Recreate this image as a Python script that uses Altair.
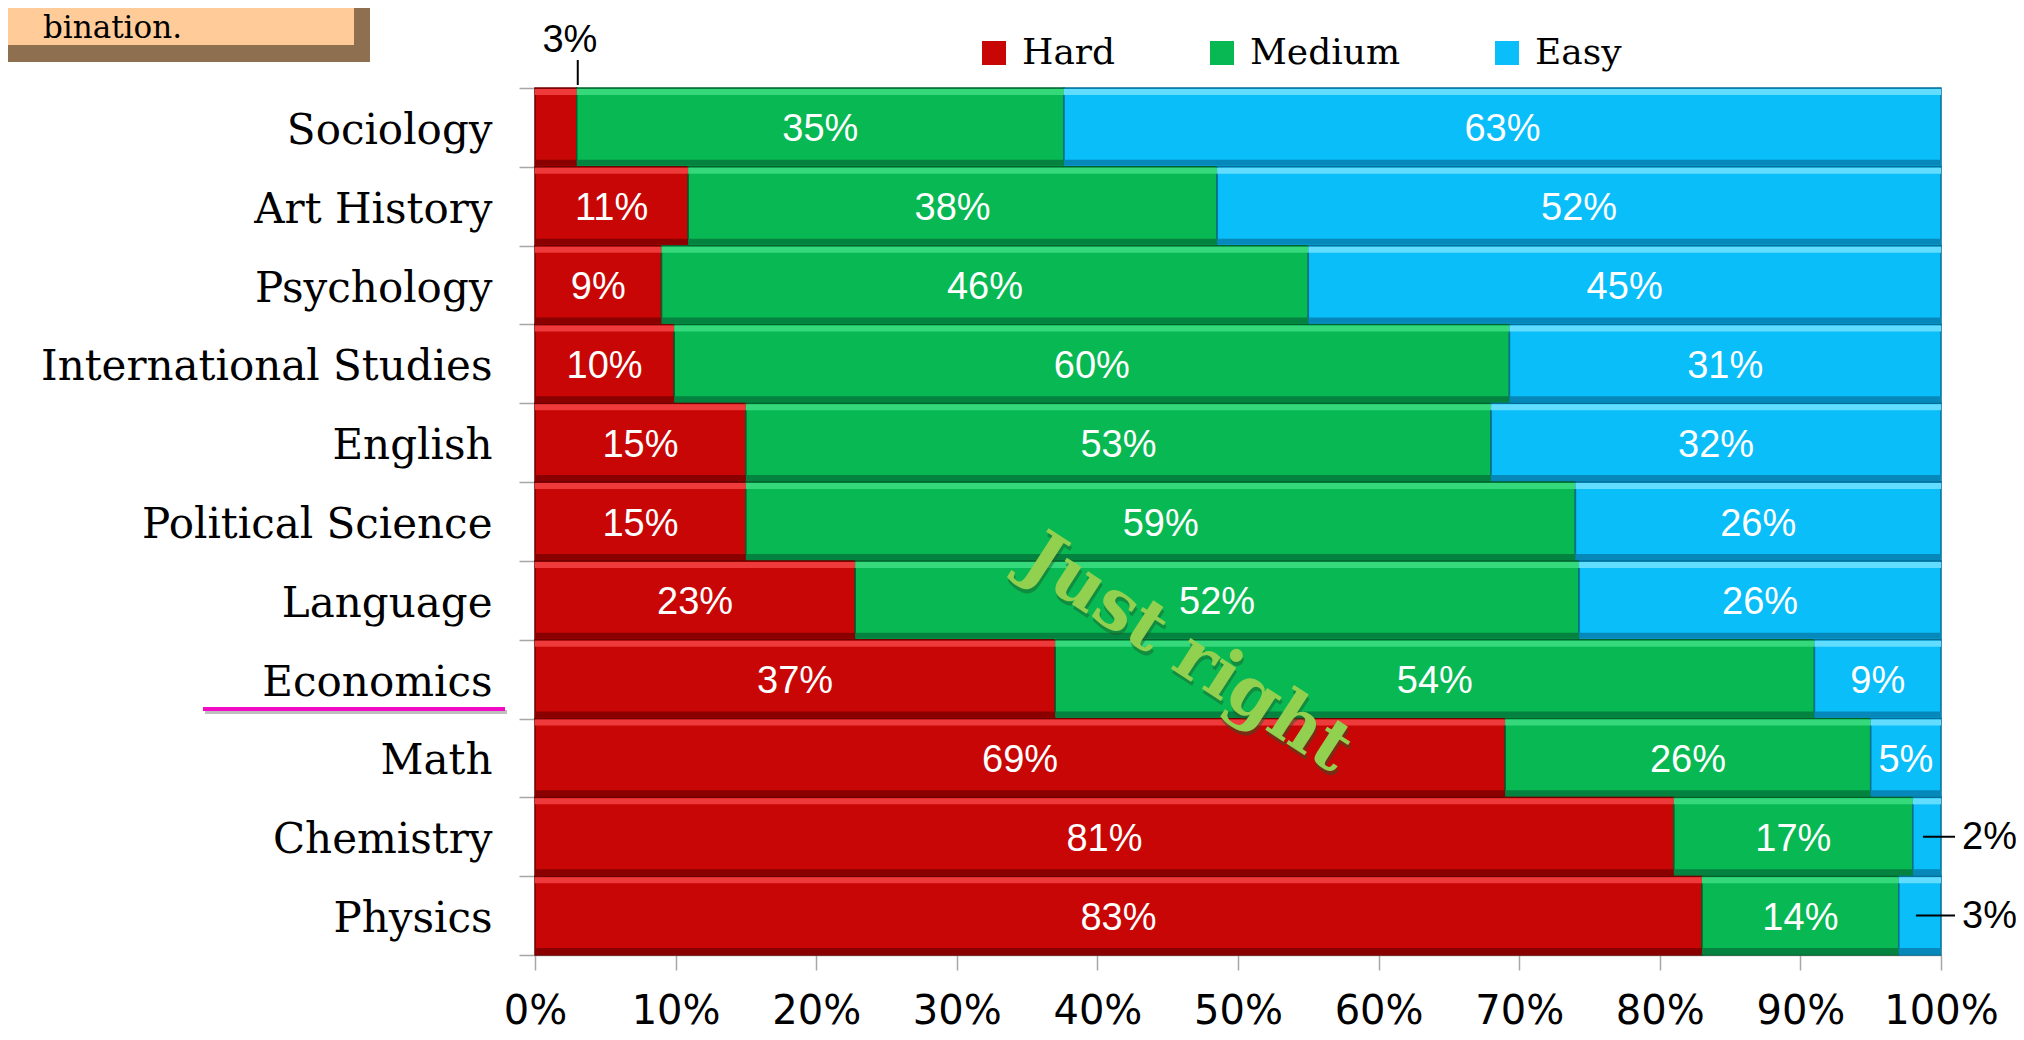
import altair as alt
import pandas as pd

# ---- data ----
subjects = ["Sociology", "Art History", "Psychology", "International Studies",
            "English", "Political Science", "Language", "Economics", "Math",
            "Chemistry", "Physics"]
hard = [3, 11, 9, 10, 15, 15, 23, 37, 69, 81, 83]
medium = [35, 38, 46, 60, 53, 59, 52, 54, 26, 17, 14]
easy = [63, 52, 45, 31, 32, 26, 26, 9, 5, 2, 3]
levels = ["Hard", "Medium", "Easy"]
colors = ["#C80606", "#07B853", "#09BEF9"]
edge_colors = ["#6E0000", "#03632F", "#056E96"]
light_colors = ["#EE3A3A", "#35D97C", "#62DDFF"]
dark_colors = ["#8A0000", "#04823F", "#0788BA"]
x_ticks = [0, 0.1, 0.2, 0.3, 0.4, 0.5, 0.6, 0.7, 0.8, 0.9, 1.0]

# ---- long table with segment extents (normalised per subject) ----
rows = []
for i, s in enumerate(subjects):
    vals = [hard[i], medium[i], easy[i]]
    tot = float(sum(vals))
    start = 0.0
    for lev, v in zip(levels, vals):
        end = start + v / tot
        rows.append({"subject": s, "level": lev, "value": v,
                     "x0": start, "x1": end, "mid": (start + end) / 2,
                     "label": f"{v}%"})
        start = end
df = pd.DataFrame(rows)
inside = df[df["value"] >= 4]
out_right = df[(df["value"] < 4) & (df["level"] == "Easy")]
out_top = df[(df["value"] < 4) & (df["level"] == "Hard")]

W, H = 1406, 867
band = H / len(subjects)

y_enc = alt.Y("subject:N", sort=subjects, title=None,
              scale=alt.Scale(paddingInner=0, paddingOuter=0),
              axis=alt.Axis(labelFont="DejaVu Serif", labelFontSize=42,
                            labelColor="#000000", labelLimit=700,
                            labelPadding=27, labelOffset=3,
                            tickBand="extent", tickSize=16,
                            tickColor="#A6A6A6", domainColor="#A6A6A6",
                            domainWidth=1.5, tickWidth=1.5))
x_scale = alt.Scale(domain=[0, 1], nice=False)
y_plain = alt.Y("subject:N", sort=subjects)

bars = alt.Chart(df).mark_bar(strokeWidth=1.5).encode(
    x=alt.X("x0:Q", scale=x_scale, title=None,
            axis=alt.Axis(values=x_ticks, format=".0%", labelFont="DejaVu Sans",
                          labelFontSize=40, labelColor="#000000", tickSize=15,
                          tickColor="#A6A6A6", domainColor="#A6A6A6",
                          domainWidth=1.5, tickWidth=1.5, labelPadding=21,
                          labelOverlap=False, labelFlush=False,
                          grid=False)),
    x2="x1:Q",
    y=y_enc,
    color=alt.Color("level:N", scale=alt.Scale(domain=levels, range=colors),
                    legend=alt.Legend(title=None, orient="none", legendX=441,
                                      legendY=-53, direction="horizontal",
                                      symbolType="square", symbolSize=576,
                                      symbolStrokeWidth=0, symbolOpacity=1,
                                      labelFont="DejaVu Serif", labelFontSize=36,
                                      labelColor="#000000", labelOffset=10,
                                      columnPadding=88, padding=0)),
    stroke=alt.Stroke("level:N", scale=alt.Scale(domain=levels, range=edge_colors),
                      legend=None),
)

# bevel: light strip along the top, dark strip along the bottom of each segment
bevel_top = alt.Chart(df).mark_bar(size=6, yOffset=-(band / 2 - 4)).encode(
    x=alt.X("x0:Q", scale=x_scale), x2="x1:Q", y=y_plain,
    color=alt.Color("level:N", scale=alt.Scale(domain=levels, range=light_colors),
                    legend=None))
bevel_bot = alt.Chart(df).mark_bar(size=6, yOffset=(band / 2 - 4)).encode(
    x=alt.X("x0:Q", scale=x_scale), x2="x1:Q", y=y_plain,
    color=alt.Color("level:N", scale=alt.Scale(domain=levels, range=dark_colors),
                    legend=None))

labels_in = alt.Chart(inside).mark_text(
    font="Liberation Sans", fontSize=38, color="white", baseline="middle",
    align="center", dy=3).encode(
    x=alt.X("mid:Q", scale=x_scale), y=y_plain, text="label:N")

labels_right = alt.Chart(out_right).mark_text(
    font="Liberation Sans", fontSize=38, color="black", baseline="middle",
    align="left", dx=21, dy=1).encode(
    x=alt.X("x1:Q", scale=x_scale), y=y_plain, text="label:N")

leaders_right = alt.Chart(out_right).mark_rule(
    color="black", strokeWidth=2, xOffset=-4, x2Offset=14).encode(
    x=alt.X("mid:Q", scale=x_scale), x2="x1:Q", y=y_plain)

labels_top = alt.Chart(out_top).mark_text(
    font="Liberation Sans", fontSize=38, color="black", baseline="middle",
    align="center", dx=14, dy=-86).encode(
    x=alt.X("mid:Q", scale=x_scale), y=y_plain, text="label:N")

leaders_top = alt.Chart(out_top).mark_rule(
    color="black", strokeWidth=2, xOffset=1).encode(
    x=alt.X("x1:Q", scale=x_scale), y=alt.value(-28), y2=alt.value(-3))

one = alt.Data(values=[{"t": "Just right", "c": "bination."}])

box_outer = alt.Chart(one).mark_rect(color="#8E6F50").encode(
    x=alt.value(-560), x2=alt.value(-165), y=alt.value(-110), y2=alt.value(-26))
box_inner = alt.Chart(one).mark_rect(color="#FFCC99").encode(
    x=alt.value(-560), x2=alt.value(-181), y=alt.value(-110), y2=alt.value(-43))
box_text = alt.Chart(one).mark_text(
    font="DejaVu Serif", fontSize=31, color="black", align="right",
    baseline="alphabetic").encode(
    x=alt.value(-353), y=alt.value(-50), text="c:N")

just_shadow = alt.Chart(one).mark_text(
    font="DejaVu Serif", fontWeight="bold", fontSize=70, color="#1F5A2A",
    opacity=0.45, angle=33, align="center", baseline="middle", dx=3, dy=3).encode(
    x=alt.value(652), y=alt.value(566), text="t:N")
just = alt.Chart(one).mark_text(
    font="DejaVu Serif", fontWeight="bold", fontSize=70, color="#92D050",
    angle=33, align="center", baseline="middle").encode(
    x=alt.value(652), y=alt.value(566), text="t:N")

underline_shadow = alt.Chart(one).mark_rule(color="#000000", strokeWidth=4,
                                            opacity=0.25).encode(
    x=alt.value(-330), x2=alt.value(-28), y=alt.value(624))
underline = alt.Chart(one).mark_rule(color="#F20BC4", strokeWidth=4).encode(
    x=alt.value(-332), x2=alt.value(-30), y=alt.value(621))

chart = alt.layer(
    bars, bevel_top, bevel_bot, labels_in, labels_right, leaders_right,
    labels_top, leaders_top,
    box_outer, box_inner, box_text, just_shadow, just,
    underline_shadow, underline
).resolve_scale(color="independent").properties(
    width=W, height=H,
    autosize=alt.AutoSizeParams(type="none"),
    padding={"left": 527, "top": 80, "right": 75, "bottom": 77},
).configure_view(stroke=None)

chart.save("out.html", embed_options={"renderer": "svg", "actions": False})
